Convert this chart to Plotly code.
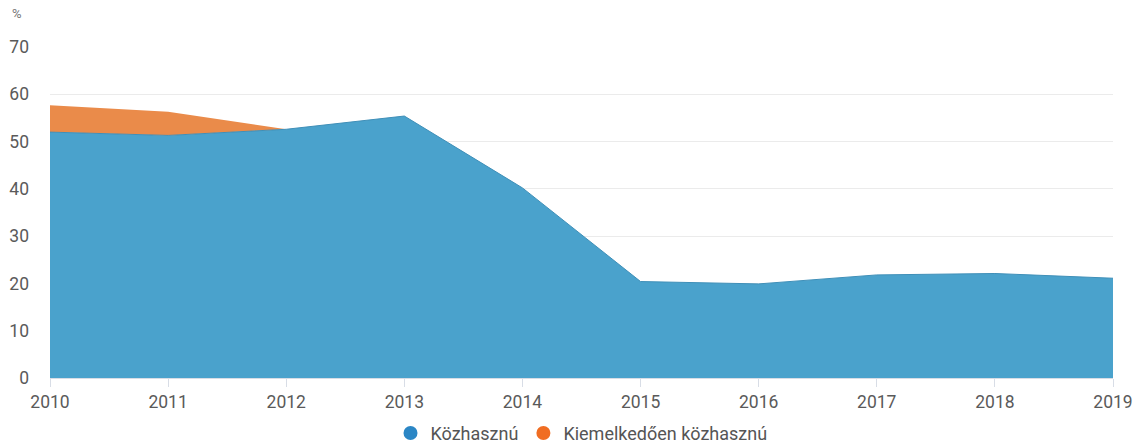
import plotly.graph_objects as go

years = [2010, 2011, 2012, 2013, 2014, 2015, 2016, 2017, 2018, 2019]
kozhasznu = [52.0, 51.3, 52.6, 55.4, 40.2, 20.4, 19.9, 21.8, 22.1, 21.1]
kiemelkedoen = [5.7, 5.0, 0.0, 0.0, 0.0, 0.0, 0.0, 0.0, 0.0, 0.0]
series_names = ["Közhasznú", "Kiemelkedően közhasznú"]
y_ticks = [0, 10, 20, 30, 40, 50, 60, 70]

area_colors = ["#4aa2cc", "#ea8b4a"]
line_colors = ["#3f8fb8", "#ea8b4a"]
line_widths = [1, 0]
legend_colors = ["#2b86c5", "#f06d22"]

fig = go.Figure()
for name, vals, ac, lc, lw in zip(series_names, [kozhasznu, kiemelkedoen], area_colors, line_colors, line_widths):
    fig.add_trace(go.Scatter(
        x=years, y=vals, name=name, mode="lines", stackgroup="one",
        fillcolor=ac, line=dict(color=lc, width=lw), showlegend=False,
        hoverinfo="x+y"))
for name, lc in zip(series_names, legend_colors):
    fig.add_trace(go.Scatter(
        x=[None], y=[None], name=name, mode="markers",
        marker=dict(color=lc, size=14, symbol="circle"), showlegend=True))

fig.update_layout(
    width=1137, height=444,
    margin=dict(l=50, r=24, t=47, b=66),
    paper_bgcolor="white", plot_bgcolor="white",
    font=dict(family="Roboto, Arial, sans-serif", size=17, color="#555555"),
    xaxis=dict(
        range=[2010, 2019], tickmode="array", tickvals=years,
        ticktext=[str(y) for y in years], automargin=False,
        ticklabeloverflow="allow",
        showgrid=False, zeroline=False, showline=True, linecolor="#d8dde6",
        ticks="outside", ticklen=8, tickcolor="#d8dde6",
        tickfont=dict(size=17.5, color="#5a5a5a")),
    yaxis=dict(
        range=[0, 70], tickvals=y_ticks, showgrid=True, gridcolor="#ebebeb",
        automargin=False,
        zeroline=False, showline=False, ticks="", ticklabelstandoff=20,
        tickfont=dict(size=17.5, color="#5a5a5a")),
    legend=dict(orientation="h", x=0.5, xanchor="center",
                yref="container", y=0.024, yanchor="middle",
                traceorder="normal",
                font=dict(size=18, color="#555555"), itemsizing="trace"),
    annotations=[dict(text="%", xref="paper", yref="paper", x=-0.038, y=1.10,
                      xanchor="left", yanchor="middle", showarrow=False,
                      font=dict(size=13, color="#777777"))],
)
fig.write_html(
    "out.html",
    config={"displayModeBar": False},
    post_script="document.body.style.margin='0px';document.body.style.overflow='hidden';",
)
